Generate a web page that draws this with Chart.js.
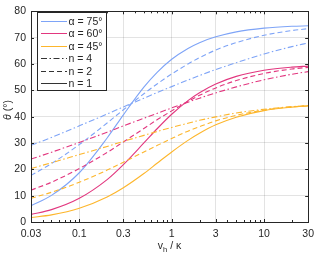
<!DOCTYPE html>
<html>
<head>
<meta charset="utf-8">
<script src="https://cdn.jsdelivr.net/npm/chart.js@4/dist/chart.umd.min.js"></script>
<style>
  html, body { margin: 0; padding: 0; background: #fff; }
</style>
</head>
<body>
<canvas id="chart" width="320" height="257"></canvas>
<script>
// values
const xValues = [0.03, 0.05, 0.1, 0.2, 0.3, 0.5, 0.7, 1, 1.5, 2, 3, 5, 10, 20, 30];

const blueN1 = [6.2, 10.1, 18.7, 31.9, 40.7, 51.2, 56.9, 61.8, 65.9, 68.1, 70.3, 72.2, 73.6, 74.3, 74.5];
const blueN2 = [17.7, 22.2, 29.4, 37.6, 42.6, 48.7, 52.5, 56.2, 60.0, 62.4, 65.3, 68.1, 70.9, 72.7, 73.4];
const blueN4 = [29.1, 32.1, 36.5, 41.0, 43.7, 47.0, 49.2, 51.4, 53.9, 55.6, 57.9, 60.5, 63.8, 66.6, 68.0];

const pinkN1 = [2.9, 4.7, 9.0, 16.1, 21.8, 30.0, 35.5, 40.9, 46.1, 49.1, 52.4, 55.3, 57.6, 58.8, 59.2];
const pinkN2 = [12.1, 15.1, 20.3, 26.4, 30.4, 35.5, 38.9, 42.2, 45.8, 48.1, 50.9, 53.7, 56.4, 58.1, 58.7];
const pinkN4 = [23.9, 26.5, 30.2, 34.1, 36.5, 39.4, 41.3, 43.3, 45.5, 47.0, 49.0, 51.3, 54.0, 56.1, 57.1];

const yellowN1 = [1.7, 2.7, 5.2, 9.5, 13.0, 18.4, 22.4, 26.6, 31.0, 33.7, 36.9, 39.8, 42.3, 43.6, 44.1];
const yellowN2 = [9.0, 11.3, 15.1, 19.7, 22.7, 26.6, 29.1, 31.7, 34.5, 36.2, 38.4, 40.5, 42.5, 43.7, 44.1];
const yellowN4 = [20.3, 22.5, 25.6, 28.7, 30.6, 32.9, 34.4, 35.9, 37.5, 38.6, 39.9, 41.4, 42.8, 43.8, 44.2];

const xTicks = [0.03, 0.1, 0.3, 1, 3, 10, 30];
const xMinorTicks = [0.04, 0.05, 0.06, 0.07, 0.08, 0.09, 0.2, 0.4, 0.5, 0.6, 0.7, 0.8, 0.9, 2, 4, 5, 6, 7, 8, 9, 20];
const yTicks = [0, 10, 20, 30, 40, 50, 60, 70, 80];

const alphaLabels = ['α = 75°', 'α = 60°', 'α = 45°'];
const nLabels = ['n = 4', 'n = 2', 'n = 1'];

const BLUE = '#7ea4f7';
const PINK = '#e2377f';
const YELLOW = '#fdb62c';
const AXIS = '#262626';
const FONT = '"Liberation Sans", Arial, sans-serif';
const FS = 10.5;

const DASH = [5, 3];
const DASHDOT = [6, 2.5, 1.5, 2.5];

function pts(ys) {
    return xValues.map((x, i) => ({ x: x, y: ys[i] }));
}

function ds(ys, color, dash) {
    return {
        data: pts(ys),
        borderColor: color,
        borderWidth: 1.1,
        borderDash: dash,
        pointRadius: 0,
        fill: false,
        cubicInterpolationMode: 'monotone'
    };
}

const datasets = [
    ds(yellowN4, YELLOW, DASHDOT), ds(yellowN2, YELLOW, DASH), ds(yellowN1, YELLOW, []),
    ds(pinkN4, PINK, DASHDOT), ds(pinkN2, PINK, DASH), ds(pinkN1, PINK, []),
    ds(blueN4, BLUE, DASHDOT), ds(blueN2, BLUE, DASH), ds(blueN1, BLUE, [])
];

// box, inward ticks, axis titles, legend
const decor = {
    id: 'decor',
    afterDraw(chart) {
        const ctx = chart.ctx;
        const a = chart.chartArea;
        const xs = chart.scales.x, ys = chart.scales.y;
        ctx.save();
        ctx.strokeStyle = AXIS;
        ctx.lineWidth = 1;
        ctx.setLineDash([]);
        ctx.beginPath();
        xTicks.forEach(v => {
            const px = Math.round(xs.getPixelForValue(v)) + 0.5;
            ctx.moveTo(px, a.bottom); ctx.lineTo(px, a.bottom - 3);
            ctx.moveTo(px, a.top); ctx.lineTo(px, a.top + 3);
        });
        xMinorTicks.forEach(v => {
            const px = Math.round(xs.getPixelForValue(v)) + 0.5;
            ctx.moveTo(px, a.bottom); ctx.lineTo(px, a.bottom - 2);
            ctx.moveTo(px, a.top); ctx.lineTo(px, a.top + 2);
        });
        yTicks.forEach(v => {
            const py = Math.round(ys.getPixelForValue(v)) + 0.5;
            ctx.moveTo(a.left, py); ctx.lineTo(a.left + 3, py);
            ctx.moveTo(a.right, py); ctx.lineTo(a.right - 3, py);
        });
        ctx.stroke();
        ctx.strokeRect(Math.round(a.left) + 0.5, Math.round(a.top) + 0.5,
            Math.round(a.right - a.left), Math.round(a.bottom - a.top));

        // y title
        ctx.fillStyle = AXIS;
        ctx.textBaseline = 'middle';
        ctx.translate(8, 110);
        ctx.rotate(-Math.PI / 2);
        ctx.font = 'italic ' + FS + 'px ' + FONT;
        const w1 = ctx.measureText('θ').width;
        ctx.font = FS + 'px ' + FONT;
        const w2 = ctx.measureText(' (°)').width;
        let sx = -(w1 + w2) / 2;
        ctx.font = 'italic ' + FS + 'px ' + FONT;
        ctx.textAlign = 'left';
        ctx.fillText('θ', sx, 0);
        ctx.font = FS + 'px ' + FONT;
        ctx.fillText(' (°)', sx + w1, 0);
        ctx.setTransform(1, 0, 0, 1, 0, 0);

        // x title v_h / κ
        ctx.font = FS + 'px ' + FONT;
        const wv = ctx.measureText('v').width;
        ctx.font = '7.5px ' + FONT;
        const wh = ctx.measureText('h').width;
        ctx.font = FS + 'px ' + FONT;
        const wk = ctx.measureText(' / κ').width;
        let tx = (a.left + a.right) / 2 - (wv + wh + wk) / 2;
        const ty = 246;
        ctx.textAlign = 'left';
        ctx.textBaseline = 'middle';
        ctx.fillText('v', tx, ty);
        ctx.font = '7.5px ' + FONT;
        ctx.fillText('h', tx + wv, ty + 4);
        ctx.font = FS + 'px ' + FONT;
        ctx.fillText(' / κ', tx + wv + wh, ty);

        // legend
        const lx = 37, ly = 12, lw = 69, lh = 78;
        ctx.fillStyle = '#fff';
        ctx.fillRect(lx, ly, lw, lh);
        ctx.strokeStyle = AXIS;
        ctx.strokeRect(lx + 0.5, ly + 0.5, lw, lh);
        const rows = [
            [alphaLabels[0], BLUE, []], [alphaLabels[1], PINK, []], [alphaLabels[2], YELLOW, []],
            [nLabels[0], '#333', DASHDOT], [nLabels[1], '#333', DASH], [nLabels[2], '#333', []]
        ];
        rows.forEach((r, i) => {
            const ry = Math.round(20.5 + i * 12.5) + 0.5;
            ctx.strokeStyle = r[1];
            ctx.setLineDash(r[2]);
            ctx.beginPath();
            ctx.moveTo(41, ry); ctx.lineTo(67, ry);
            ctx.stroke();
            ctx.setLineDash([]);
            ctx.fillStyle = AXIS;
            ctx.font = FS + 'px ' + FONT;
            ctx.fillText(r[0], 68.5, ry + 0.5);
        });
        ctx.restore();
    }
};

new Chart(document.getElementById('chart').getContext('2d'), {
    type: 'line',
    data: { datasets: datasets },
    options: {
        responsive: false,
        animation: false,
        events: [],
        layout: { padding: { top: 5, right: 8, left: 0, bottom: 0 } },
        plugins: { legend: { display: false }, tooltip: { enabled: false } },
        scales: {
            x: {
                type: 'logarithmic',
                min: 0.03,
                max: 30,
                afterBuildTicks: s => { s.ticks = xTicks.map(v => ({ value: v })); },
                afterFit: s => { s.height = 35; },
                ticks: {
                    callback: v => String(v),
                    autoSkip: false,
                    maxRotation: 0,
                    padding: 6,
                    color: AXIS,
                    font: { family: FONT, size: FS }
                },
                grid: { color: 'rgba(38,38,38,0.13)', drawTicks: false },
                border: { display: false }
            },
            y: {
                min: 0,
                max: 80,
                afterBuildTicks: s => { s.ticks = yTicks.map(v => ({ value: v })); },
                afterFit: s => { s.width = 31; },
                ticks: {
                    padding: 5,
                    color: AXIS,
                    font: { family: FONT, size: FS }
                },
                grid: { color: 'rgba(38,38,38,0.13)', drawTicks: false },
                border: { display: false }
            }
        }
    },
    plugins: [decor]
});
</script>
</body>
</html>
